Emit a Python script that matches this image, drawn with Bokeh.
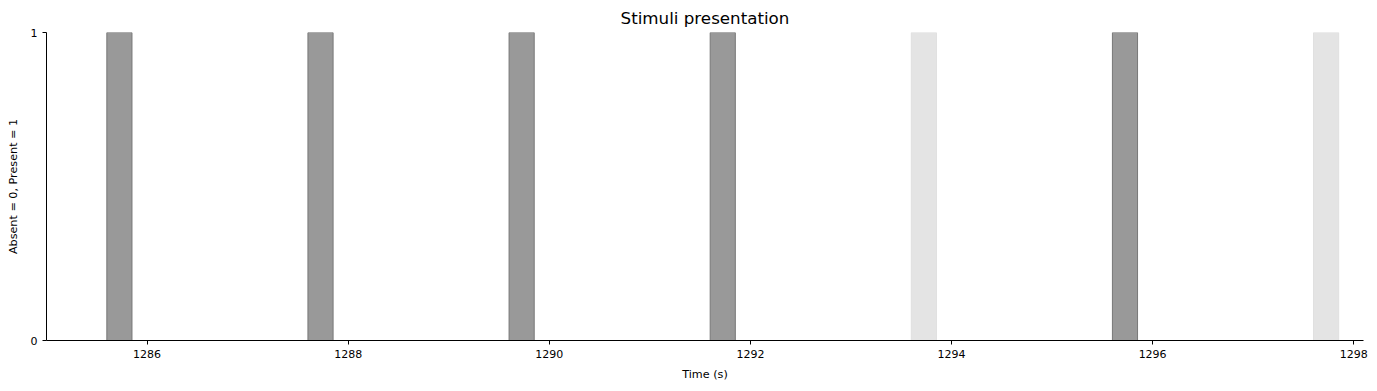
from bokeh.plotting import figure
from bokeh.models import FixedTicker, Range1d
from bokeh.embed import file_html
from bokeh.resources import INLINE

# Data
onsets = [1285.6, 1287.6, 1289.6, 1291.6, 1293.6, 1295.6, 1297.6]
durations = [0.25, 0.25, 0.25, 0.25, 0.25, 0.25, 0.25]
present = [1, 1, 1, 1, 1, 1, 1]
kind = ["dark", "dark", "dark", "dark", "light", "dark", "light"]
x_ticks = [1286, 1288, 1290, 1292, 1294, 1296, 1298]
y_ticks = [0, 1]

fills = {"dark": "#999999", "light": "#e4e4e4"}
edges = {"dark": "#777777", "light": "#e0e0e0"}

FONT = "DejaVu Sans"

p = figure(frame_width=1317, frame_height=308, output_backend="svg", toolbar_location=None,
           x_range=Range1d(1285.0, 1298.097), y_range=Range1d(0, 1),
           min_border_left=46, min_border_right=14, min_border_top=32, min_border_bottom=51,
           title="Stimuli presentation")

left = onsets
right = [o + d for o, d in zip(onsets, durations)]
bottom = [0] * len(onsets)
p.quad(left=left, right=right, bottom=bottom, top=present,
       fill_color=[fills[k] for k in kind], line_color=[edges[k] for k in kind], line_width=1)

p.title.align = "center"
p.title.text_font = FONT
p.title.text_font_size = "16.7px"
p.title.text_font_style = "normal"
p.title.text_color = "#000000"

p.outline_line_color = None
p.xgrid.visible = False
p.ygrid.visible = False
p.background_fill_color = "white"
p.border_fill_color = "white"

p.xaxis.ticker = FixedTicker(ticks=x_ticks)
p.yaxis.ticker = FixedTicker(ticks=y_ticks)
p.xaxis.axis_label = "Time (s)"
p.yaxis.axis_label = "Absent = 0, Present = 1"

for ax in (p.xaxis, p.yaxis):
    ax.axis_line_color = "black"
    ax.axis_line_width = 1
    ax.major_tick_line_color = "black"
    ax.major_tick_out = 4
    ax.major_tick_in = 0
    ax.minor_tick_line_color = None
    ax.major_label_text_font = FONT
    ax.major_label_text_font_size = "11px"
    ax.major_label_text_color = "black"
    ax.axis_label_text_font = FONT
    ax.axis_label_text_font_size = "11.2px"
    ax.axis_label_text_font_style = "normal"
    ax.axis_label_text_color = "black"
    ax.major_label_standoff = 5

p.xaxis.axis_label_standoff = 7
p.yaxis.axis_label_standoff = 8

open("out.html", "w").write(file_html(p, INLINE))
